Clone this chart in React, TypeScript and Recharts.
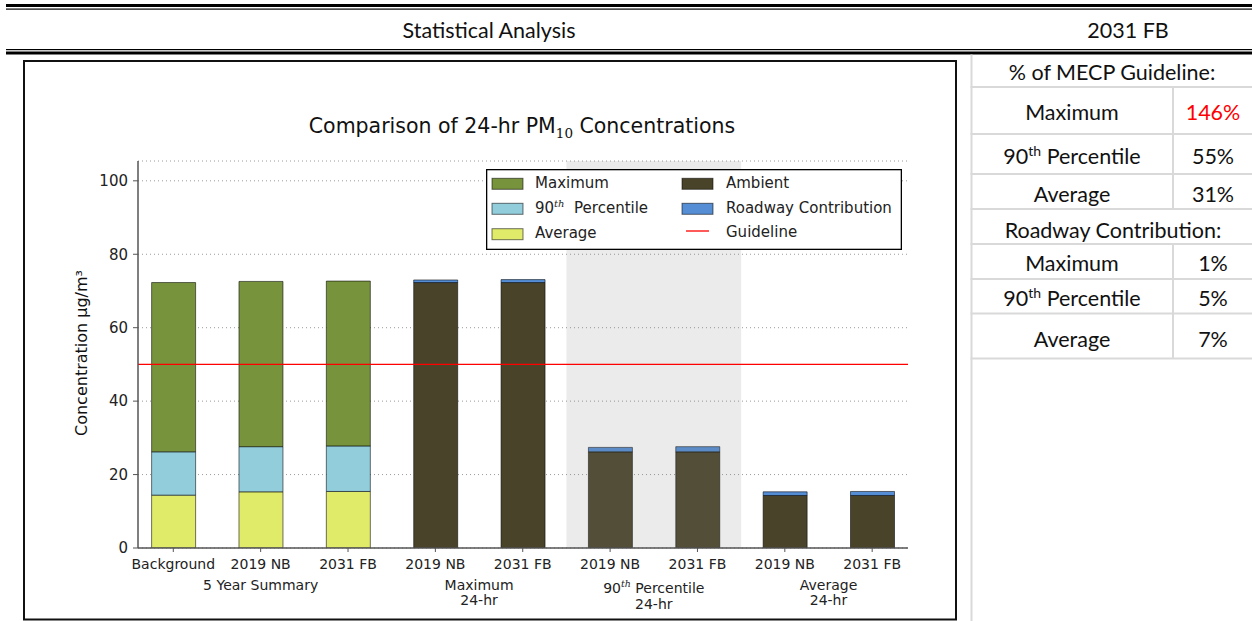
import React from 'react';
import {
  BarChart,
  Bar,
  XAxis,
  YAxis,
  CartesianGrid,
  ReferenceLine,
  ReferenceArea,
  Legend,
} from 'recharts';

// ---------- data ----------
const categories = ['Background', '2019 NB', '2031 FB', '2019 NB', '2031 FB', '2019 NB', '2031 FB', '2019 NB', '2031 FB'];
// 5 year summary (first three bars)
const summaryAverage = [14.4, 15.3, 15.4, null, null, null, null, null, null];
const summary90th = [26.2, 27.6, 27.8, null, null, null, null, null, null];
const summaryMaximum = [72.3, 72.6, 72.7, null, null, null, null, null, null];
// 24-hr results
const ambient = [null, null, null, 72.3, 72.3, 26.2, 26.2, 14.3, 14.3];
const roadwayContribution = [null, null, null, 0.7, 0.8, 1.2, 1.4, 1.0, 1.1];
const guideline = 50;

const yTicks = [0, 20, 40, 60, 80, 100];
const groupTickPositions = [1, 3.5, 5.5, 7.5];
const groupLabels = [['5 Year Summary'], ['Maximum', '24-hr'], ['90th Percentile', '24-hr'], ['Average', '24-hr']];

const tableGuideline = [
  ['Maximum', '146%'],
  ['90th Percentile', '55%'],
  ['Average', '31%'],
];
const tableRoadway = [
  ['Maximum', '1%'],
  ['90th Percentile', '5%'],
  ['Average', '7%'],
];

// ---------- styles ----------
const COLORS = {
  maximum: '#77933C',
  p90: '#92CDDC',
  average: '#DFEB69',
  ambient: '#494429',
  roadway: '#558ED5',
  guideline: '#FF0000',
};
const MPL_FONT = "'DejaVu Sans', sans-serif";
const DOC_FONT = "Lato, 'Open Sans', sans-serif";

const rows = categories.map((c, i) => ({
  x: i,
  name: c,
  average: summaryAverage[i],
  p90: summary90th[i] != null && summaryAverage[i] != null ? +(summary90th[i]! - summaryAverage[i]!).toFixed(2) : null,
  maximum: summaryMaximum[i] != null && summary90th[i] != null ? +(summaryMaximum[i]! - summary90th[i]!).toFixed(2) : null,
  ambient: ambient[i],
  roadway: roadwayContribution[i],
}));

const legendItems = [
  { label: 'Maximum', color: COLORS.maximum, type: 'patch', col: 0, row: 0 },
  { label: '90|th| Percentile', color: COLORS.p90, type: 'patch', col: 0, row: 1 },
  { label: 'Average', color: COLORS.average, type: 'patch', col: 0, row: 2 },
  { label: 'Ambient', color: COLORS.ambient, type: 'patch', col: 1, row: 0 },
  { label: 'Roadway Contribution', color: COLORS.roadway, type: 'patch', col: 1, row: 1 },
  { label: 'Guideline', color: COLORS.guideline, type: 'line', col: 1, row: 2 },
];

const LegendContent = () => {
  const colX = [6, 196];
  const textX = [49, 240];
  const patchTop = [9.3, 34.3, 59.7];
  const baseline = [19.3, 44.3, 69.3];
  return (
    <svg width={416} height={81} style={{ display: 'block' }}>
      <rect x={0.65} y={0.65} width={414.7} height={79.7} fill="#fff" stroke="#000" strokeWidth={1.3} />
      {legendItems.map((it) => (
        <g key={it.label}>
          {it.type === 'patch' ? (
            <rect
              x={colX[it.col]}
              y={patchTop[it.row]}
              width={31}
              height={11}
              fill={it.color}
              stroke="#000"
              strokeOpacity={0.55}
              strokeWidth={1}
            />
          ) : (
            <line x1={colX[it.col] + 4} x2={colX[it.col] + 27} y1={62} y2={62} stroke={it.color} strokeWidth={1.3} />
          )}
          <text
            x={textX[it.col]}
            y={it.label === 'Guideline' ? 67.5 : baseline[it.row]}
            fontFamily={MPL_FONT}
            fontSize={15}
            fill="#222"
          >
            {it.label.includes('|') ? (
              <>
                90
                <tspan dy={-6} fontSize={10} fontStyle="italic" fontFamily="'DejaVu Serif', serif">
                  th
                </tspan>
                <tspan dy={6}>{'\u00a0 Percentile'}</tspan>
              </>
            ) : (
              it.label
            )}
          </text>
        </g>
      ))}
    </svg>
  );
};

const GroupTick = (props: any) => {
  const { x, y, payload } = props;
  const gi = groupTickPositions.indexOf(payload.value);
  if (gi < 0) return null;
  const lines = groupLabels[gi];
  const isPct = gi === 2;
  const first = isPct ? 21 : 18;
  const step = isPct ? 16 : 15;
  return (
    <g>
      {lines.map((ln, li) => (
        <text
          key={li}
          x={x}
          y={y + first + li * step}
          textAnchor="middle"
          fontFamily={MPL_FONT}
          fontSize={14}
          fill="#222"
        >
          {ln === '90th Percentile' ? (
            <>
              90
              <tspan dy={-6} fontSize={9.5} fontStyle="italic" fontFamily="'DejaVu Serif', serif">
                th
              </tspan>
              <tspan dy={6}>{' Percentile'}</tspan>
            </>
          ) : (
            ln
          )}
        </text>
      ))}
    </g>
  );
};

const TableText = ({ x, y, children, color = '#111', size = 21.5, anchor = 'middle' }: any) => (
  <text x={x} y={y} textAnchor={anchor} fontFamily={DOC_FONT} fontSize={size} fill={color}>
    {children}
  </text>
);

const PercentLabel = ({ x, y, label }: any) => {
  if (label.startsWith('90th')) {
    return (
      <TableText x={x} y={y}>
        90
        <tspan dy={-8} fontSize={14}>
          th
        </tspan>
        <tspan dy={8}> Percentile</tspan>
      </TableText>
    );
  }
  return (
    <TableText x={x} y={y}>
      {label}
    </TableText>
  );
};

export default function App() {
  const gridGray = '#D9D9D9';
  const guideBase = [120, 163.5, 201.5];
  const roadBase = [271, 306, 346.5];
  const guideLines = [87, 134, 174, 209];
  const roadLines = [244, 279, 313.5, 358.5];
  return (
    <div style={{ position: 'absolute', left: 0, top: 0, width: 1252, height: 621, background: '#fff', overflow: 'hidden' }}>
      {/* page decoration: header, side table, title, axis label */}
      <svg width={1252} height={621} style={{ position: 'absolute', left: 0, top: 0 }}>
        <rect x={6} y={4} width={1246} height={3} fill="#000" />
        <rect x={6} y={8.5} width={1246} height={1.2} fill="#000" />
        <TableText x={489} y={37.5}>Statistical Analysis</TableText>
        <TableText x={1128} y={37.5}>2031 FB</TableText>
        <rect x={6} y={49} width={1246} height={1.2} fill="#000" />
        <rect x={6} y={51.5} width={1246} height={3} fill="#000" />

        {/* side table */}
        <rect x={970.5} y={54.5} width={2} height={567} fill={gridGray} />
        {[...guideLines, ...roadLines].map((yy) => (
          <rect key={yy} x={970.5} y={yy - 1} width={282} height={2} fill={gridGray} />
        ))}
        <rect x={1172} y={87} width={2} height={122} fill={gridGray} />
        <rect x={1172} y={244} width={2} height={114.5} fill={gridGray} />
        <TableText x={1112} y={80}>% of MECP Guideline:</TableText>
        {tableGuideline.map(([lab, val], i) => (
          <g key={'g' + i}>
            <PercentLabel x={1072} y={guideBase[i]} label={lab} />
            <TableText x={1213} y={guideBase[i]} color={i === 0 ? '#FF0000' : '#111'}>
              {val}
            </TableText>
          </g>
        ))}
        <TableText x={1113} y={237.5}>Roadway Contribution:</TableText>
        {tableRoadway.map(([lab, val], i) => (
          <g key={'r' + i}>
            <PercentLabel x={1072} y={roadBase[i]} label={lab} />
            <TableText x={1213} y={roadBase[i]}>{val}</TableText>
          </g>
        ))}

        {/* chart frame */}
        <rect x={24} y={61} width={932} height={558.5} fill="#fff" stroke="#111" strokeWidth={2} />

        {/* chart title */}
        <text x={522} y={133} textAnchor="middle" fontFamily={MPL_FONT} fontSize={20.5} fill="#111">
          Comparison of 24-hr PM
          <tspan dy={5} fontSize={13.5} fontFamily="'DejaVu Serif', serif">
            10
          </tspan>
          <tspan dy={-5}> Concentrations</tspan>
        </text>
        {/* y axis label */}
        <text
          x={0}
          y={0}
          transform="translate(87 353) rotate(-90)"
          textAnchor="middle"
          fontFamily={MPL_FONT}
          fontSize={16}
          fill="#111"
        >
          Concentration µg/m³
        </text>
      </svg>

      <div style={{ position: 'absolute', left: 0, top: 0 }}>
        <BarChart
          width={960}
          height={621}
          data={rows}
          margin={{ top: 161, right: 52, left: 78, bottom: 4 }}
          barSize={44}
        >
          <CartesianGrid horizontal vertical={false} stroke="#9a9a9a" strokeDasharray="1 3" />
          <XAxis
            dataKey="x"
            type="number"
            domain={[-0.404, 8.41]}
            allowDataOverflow
            ticks={[0, 1, 2, 3, 4, 5, 6, 7, 8]}
            interval={0}
            tickFormatter={(v: number) => categories[v]}
            height={24}
            tickSize={4}
            tickMargin={7}
            tick={{ fontSize: 14, fill: '#222', fontFamily: MPL_FONT }}
            axisLine={{ stroke: '#555', strokeWidth: 1.5 }}
            tickLine={{ stroke: '#555' }}
          />
          <XAxis
            xAxisId="grp"
            dataKey="x"
            type="number"
            domain={[-0.404, 8.41]}
            allowDataOverflow
            ticks={groupTickPositions}
            interval={0}
            height={45}
            tickSize={0}
            tickMargin={0}
            axisLine={false}
            tickLine={false}
            tick={<GroupTick />}
          />
          <YAxis
            type="number"
            domain={[0, 105.4]}
            allowDataOverflow
            ticks={yTicks}
            width={60}
            tickSize={5}
            tickMargin={5}
            tick={{ fontSize: 15, fill: '#222', fontFamily: MPL_FONT }}
            axisLine={{ stroke: '#555', strokeWidth: 1.5 }}
            tickLine={{ stroke: '#555' }}
          />
          <Bar dataKey="average" stackId="s" fill={COLORS.average} stroke="#000" strokeOpacity={0.55} isAnimationActive={false} />
          <Bar dataKey="p90" stackId="s" fill={COLORS.p90} stroke="#000" strokeOpacity={0.55} isAnimationActive={false} />
          <Bar dataKey="maximum" stackId="s" fill={COLORS.maximum} stroke="#000" strokeOpacity={0.55} isAnimationActive={false} />
          <Bar dataKey="ambient" stackId="s" fill={COLORS.ambient} stroke="#000" strokeOpacity={0.55} isAnimationActive={false} />
          <Bar dataKey="roadway" stackId="s" fill={COLORS.roadway} stroke="#000" strokeOpacity={0.55} isAnimationActive={false} />
          <ReferenceArea
            x1={4.5}
            x2={6.5}
            fill="#808080"
            fillOpacity={0.16}
            stroke="none"
            ifOverflow="hidden"
            {...({ zIndex: 350 } as any)}
          />
          <ReferenceLine y={guideline} stroke={COLORS.guideline} strokeWidth={1.3} {...({ zIndex: 450 } as any)} />
          <Legend
            layout="vertical"
            align="center"
            verticalAlign="middle"
            wrapperStyle={{ left: 486, top: 169, width: 416, height: 81 }}
            content={() => <LegendContent />}
          />
        </BarChart>
      </div>
    </div>
  );
}
